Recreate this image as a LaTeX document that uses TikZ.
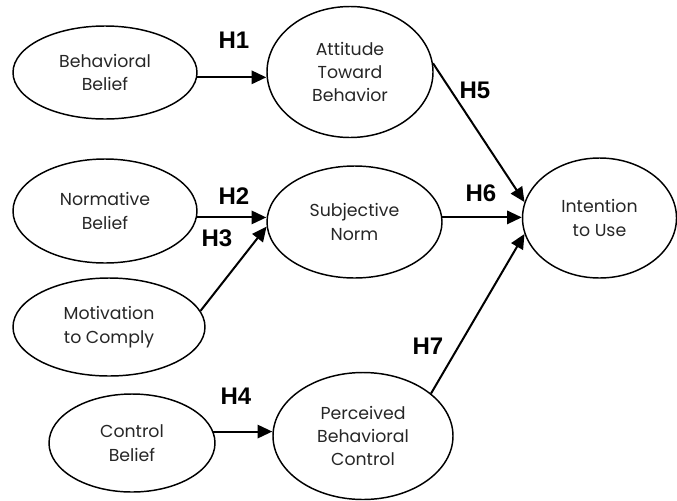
\documentclass[tikz,border=0pt]{standalone}
\usepackage{fontspec}
\setmainfont{Poppins}
\newfontfamily\hfont{Liberation Sans}
\usetikzlibrary{arrows.meta, shapes.geometric, positioning}

\begin{document}
\begin{tikzpicture}[
            x=0.75pt, y=-0.75pt,
            % Stile per i costrutti (ellissi)
            construct/.style 2 args={ellipse, draw=black, line width=1.1pt,
                minimum width=#1*0.75pt, minimum height=#2*0.75pt, inner sep=0pt,
                align=center, text=black!85, font=\fontsize{13}{17.5}\selectfont},
            % Stile per le frecce
            path/.style={line width=1.5pt, black, -{Triangle[length=11pt, width=10pt]}},
            % Stile per le ipotesi
            hyp/.style={font=\hfont\bfseries\fontsize{18}{18}\selectfont}
        ]
            \useasboundingbox (0,0) rectangle (677,500);

            % --- Credenze (colonna sinistra) ---
            \node[construct={184}{93}] (bb) at (105,72.5) {Behavioral\\Belief};
            \node[construct={184}{104}] (nb) at (105,211) {Normative\\Belief};
            \node[construct={192}{98}] (mot) at (109,327) {Motivation\\to Comply};
            \node[construct={166}{98}] (cb) at (132,443) {Control\\Belief};

            % --- Costrutti intermedi ---
            \node[construct={166}{131}] (att) at (350,72) {Attitude\\Toward\\Behavior};
            \node[construct={175}{112}] (sn) at (354.5,222) {Subjective\\Norm};
            \node[construct={180}{127}] (pbc) at (363,436) {Perceived\\Behavioral\\Control};

            % --- Intenzione ---
            \node[construct={154}{120}] (int) at (599.5,218) {Intention\\to Use};

            % Frecce orizzontali
            \draw[path] (bb.-3) -- (bb.-3 -| att.west);
            \draw[path] (nb.-4) -- (nb.-4 -| sn.west);
            \draw[path] (cb.8) -- (cb.8 -| pbc.west);
            \draw[path] (sn.3) -- (sn.3 -| int.west);
            % Frecce oblique
            \draw[path] (mot.10) -- (sn.183);
            \draw[path] (att.6) -- (int.168);
            \draw[path] (pbc.32) -- (int.192);

            % Etichette delle ipotesi
            \node[hyp] (h1) at (234,40) {H1};
            \node[hyp] (h2) at (234,196) {H2};
            \node[hyp] (h3) at (217,238) {H3};
            \node[hyp] (h4) at (236,396) {H4};
            \node[hyp] (h5) at (475,90) {H5};
            \node[hyp] (h6) at (481,193) {H6};
            \node[hyp] (h7) at (428,346) {H7};

        \end{tikzpicture}
\end{document}
